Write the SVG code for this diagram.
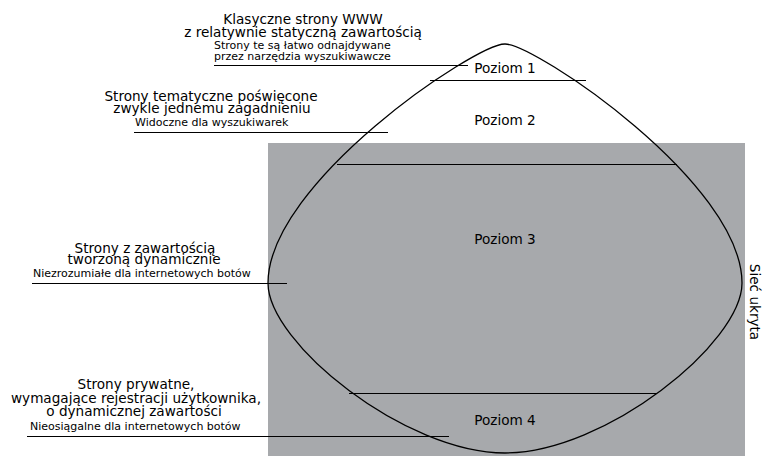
<svg xmlns="http://www.w3.org/2000/svg" width="767" height="456" viewBox="0 0 767 456">
<style>
text{font-family:"DejaVu Sans","Liberation Sans",sans-serif;fill:#000}
.b{font-size:13.6px}
.s{font-size:11px}
.m{text-anchor:middle}
.ln{stroke:#000;stroke-width:1.1;fill:none}
.sh{stroke:#000;stroke-width:1.3;fill:none}
</style>
<rect x="268" y="143" width="477" height="313" fill="#a7a9ac"/>
<g id="shape">
<path class="sh" d="M505,44 C475,44 268,183 268,283 C268,343 405,453 505,453 C605,453 742,343 742,283 C742,183 535,44 505,44 Z"/>
</g>
<g id="connectors">
<line class="ln" x1="214" y1="65.5" x2="468" y2="65.5"/>
<line class="ln" x1="430" y1="80.5" x2="586" y2="80.5"/>
<line class="ln" x1="134" y1="132.5" x2="388" y2="132.5"/>
<line class="ln" x1="337" y1="164.5" x2="677" y2="164.5"/>
<line class="ln" x1="32" y1="283.5" x2="287" y2="283.5"/>
<line class="ln" x1="349" y1="393.5" x2="657" y2="393.5"/>
<line class="ln" x1="27" y1="436.5" x2="449" y2="436.5"/>
</g>
<g id="level1">
<text class="b m" x="303" y="24">Klasyczne strony WWW</text>
<text class="b m" x="303" y="37">z relatywnie statyczną zawartością</text>
<text class="s" x="214" y="49">Strony te są łatwo odnajdywane</text>
<text class="s" x="214" y="60">przez narzędzia wyszukiwawcze</text>
<text class="b m" x="505" y="73">Poziom 1</text>
</g>
<g id="level2">
<text class="b m" x="211" y="101">Strony tematyczne poświęcone</text>
<text class="b m" x="212" y="113">zwykle jednemu zagadnieniu</text>
<text class="s" x="135" y="125.5">Widoczne dla wyszukiwarek</text>
<text class="b m" x="505" y="125">Poziom 2</text>
</g>
<g id="level3">
<text class="b m" x="145" y="252.5">Strony z zawartością</text>
<text class="b m" x="144" y="263.5">tworzoną dynamicznie</text>
<text class="s" x="33" y="276.5">Niezrozumiałe dla internetowych botów</text>
<text class="b m" x="505" y="244">Poziom 3</text>
</g>
<g id="level4">
<text class="b m" x="136" y="389">Strony prywatne,</text>
<text class="b m" x="136" y="402.5">wymagające rejestracji użytkownika,</text>
<text class="b m" x="134" y="416">o dynamicznej zawartości</text>
<text class="s" x="30" y="430">Nieosiągalne dla internetowych botów</text>
<text class="b m" x="505" y="425">Poziom 4</text>
</g>
<g id="hidden-web">
<text class="b m" transform="translate(750,302) rotate(90)">Sieć ukryta</text>
</g>
</svg>
